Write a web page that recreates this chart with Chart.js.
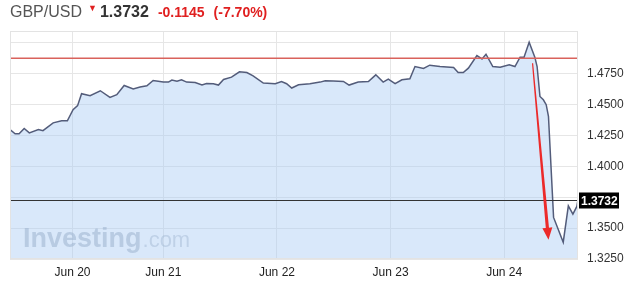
<!DOCTYPE html>
<html>
<head>
<meta charset="utf-8">
<script src="https://cdn.jsdelivr.net/npm/chart.js@4"></script>
<style>
  html, body { margin: 0; padding: 0; background: #fff; }
  #wrap { position: relative; width: 637px; height: 289px; font-family: "Liberation Sans", Arial, sans-serif; }
  #head { position: absolute; left: 10px; top: 3px; white-space: nowrap; }
  #head .pair { font-size: 16px; color: #555; }
  #head .ico { color: #e02020; font-size: 9px; position: relative; top: -6px; margin: 0 3px 0 6px; }
  #head .last { font-size: 16px; font-weight: bold; color: #333; }
  #head .chg { font-size: 14px; font-weight: bold; color: #e02020; margin-left: 9px; }
  canvas { position: absolute; left: 0; top: 0; }
</style>
</head>
<body>
<div id="wrap">
  <canvas id="fxChart" width="637" height="289"></canvas>
  <div id="head"><span class="pair">GBP/USD</span><span class="ico">&#9660;</span><span class="last">1.3732</span><span class="chg">-0.1145</span><span class="chg">(-7.70%)</span></div>
</div>
<script>
  // datos (x = pasos de tiempo, 20 por día)
  const steps = [0, 0.9, 1.6, 2.5, 3.4, 5, 5.8, 7.6, 9.1, 10.1, 11.1, 11.9, 12.6, 14.1, 15.9, 17.6, 18.8, 20.1,
    21.7, 22.9, 24.1, 25.2, 27, 27.9, 28.5, 29.4, 30.2, 31.1, 32.6, 33.8, 34.6, 35.8, 36.7, 37.6, 39, 40.4,
    41.7, 42.8, 44.6, 46.7, 47.8, 48.7, 49.6, 50.8, 52.8, 54.6, 55.5, 56.9, 58.7, 59.7, 61.3, 63.1, 64.4,
    65.7, 66.6, 67.8, 69, 70.4, 71.3, 72.8, 73.9, 75.7, 78.1, 78.9, 79.8, 80.7, 82.2, 83.1, 83.8, 85, 86.3,
    87.9, 88.9, 89.8, 90.5, 91.4, 92.4, 92.8, 93.3, 93.9, 94.4, 94.8, 95.7, 97.4, 98.3, 99.1, 99.8, 100];
  const prices = [1.4299, 1.4264, 1.4264, 1.4307, 1.4272, 1.4299, 1.4290, 1.4353, 1.4369, 1.4369, 1.4460, 1.4492,
    1.4589, 1.4573, 1.4613, 1.4559, 1.4581, 1.4656, 1.4627, 1.4643, 1.4653, 1.4696, 1.4683, 1.4683, 1.4700,
    1.4690, 1.4702, 1.4683, 1.4680, 1.4659, 1.4672, 1.4670, 1.4659, 1.4704, 1.4723, 1.4766, 1.4760, 1.4734,
    1.4675, 1.4670, 1.4688, 1.4670, 1.4635, 1.4661, 1.4670, 1.4683, 1.4694, 1.4691, 1.4688, 1.4659, 1.4683,
    1.4688, 1.4742, 1.4683, 1.4707, 1.4670, 1.4702, 1.4710, 1.4809, 1.4793, 1.4820, 1.4809, 1.4801, 1.4760,
    1.4760, 1.4796, 1.4898, 1.4871, 1.4909, 1.4809, 1.4804, 1.4823, 1.4809, 1.4885, 1.4885, 1.5006, 1.4885,
    1.4809, 1.4567, 1.4540, 1.4500, 1.4406, 1.3587, 1.3386, 1.3680, 1.3613, 1.3676, 1.3732];

  const dayTicks = [11, 27, 47, 67, 87];
  const dayLabels = ['Jun 20', 'Jun 21', 'Jun 22', 'Jun 23', 'Jun 24'];
  const yTicks = [1.325, 1.35, 1.375, 1.4, 1.425, 1.45, 1.475, 1.5];
  const yLabels = ['1.3250', '1.3500', '', '1.4000', '1.4250', '1.4500', '1.4750', ''];

  const prevClose = 1.4877;
  const lastPrice = 1.3732;
  const arrowFrom = [92, 1.4836];
  const arrowTo = [94.8, 1.3406];

  const marcas = {
    id: 'marcas',
    beforeDraw(chart) {
      const {ctx, chartArea: a} = chart;
      ctx.save();
      ctx.fillStyle = '#fff';
      ctx.fillRect(a.left, a.top, a.width, a.height);
      ctx.restore();
    },
    beforeDatasetsDraw(chart) {
      const {ctx, chartArea: a} = chart;
      ctx.save();
      ctx.font = 'bold 27px "Liberation Sans", Arial, sans-serif';
      ctx.fillStyle = 'rgba(135,150,170,0.5)';
      ctx.textBaseline = 'alphabetic';
      ctx.fillText('Investing', a.left + 13, 247);
      const w = ctx.measureText('Investing').width;
      ctx.font = '22px "Liberation Sans", Arial, sans-serif';
      ctx.fillStyle = 'rgba(135,150,170,0.4)';
      ctx.fillText('.com', a.left + 14 + w, 247);
      ctx.restore();
    },
    afterDatasetsDraw(chart) {
      const {ctx, chartArea: a, scales: {x, y}} = chart;
      ctx.save();
      // cierre anterior
      const yr = y.getPixelForValue(prevClose);
      ctx.strokeStyle = '#d9625c';
      ctx.lineWidth = 1.5;
      ctx.beginPath(); ctx.moveTo(a.left, yr); ctx.lineTo(a.right, yr); ctx.stroke();
      // último precio
      const yl = Math.round(y.getPixelForValue(lastPrice)) + 0.5;
      ctx.strokeStyle = '#333';
      ctx.lineWidth = 1;
      ctx.beginPath(); ctx.moveTo(a.left, yl); ctx.lineTo(a.right, yl); ctx.stroke();
      ctx.fillStyle = '#000';
      ctx.fillRect(a.right + 1, yl - 8, 40, 16);
      ctx.fillStyle = '#fff';
      ctx.font = 'bold 12px "Liberation Sans", Arial, sans-serif';
      ctx.textBaseline = 'middle';
      ctx.fillText(lastPrice.toFixed(4), a.right + 3, yl + 1);
      // flecha roja
      const x0 = x.getPixelForValue(arrowFrom[0]), y0 = y.getPixelForValue(arrowFrom[1]);
      const x1 = x.getPixelForValue(arrowTo[0]), y1 = y.getPixelForValue(arrowTo[1]);
      const ang = Math.atan2(y1 - y0, x1 - x0);
      const hl = 12, hw = 5;
      const bx = x1 - hl * Math.cos(ang), by = y1 - hl * Math.sin(ang);
      const nx = -Math.sin(ang), ny = Math.cos(ang);
      ctx.fillStyle = '#ec2a2a';
      ctx.beginPath();
      ctx.moveTo(x0 + nx * 0.6, y0 + ny * 0.6);
      ctx.lineTo(bx + nx * 1.6, by + ny * 1.6);
      ctx.lineTo(bx + nx * hw, by + ny * hw);
      ctx.lineTo(x1, y1);
      ctx.lineTo(bx - nx * hw, by - ny * hw);
      ctx.lineTo(bx - nx * 1.6, by - ny * 1.6);
      ctx.lineTo(x0 - nx * 0.6, y0 - ny * 0.6);
      ctx.closePath();
      ctx.fill();
      // borde
      ctx.strokeStyle = '#e3e3e3';
      ctx.lineWidth = 1;
      ctx.strokeRect(a.left + 0.5, a.top + 0.5, a.width - 1, a.height - 1);
      ctx.restore();
    }
  };

  const ctx = document.getElementById('fxChart').getContext('2d');
  const fxChart = new Chart(ctx, {
    type: 'line',
    data: {
      datasets: [{
        label: 'GBP/USD',
        data: steps.map((s, i) => ({x: s, y: prices[i]})),
        borderColor: '#535c7a',
        borderWidth: 1.5,
        backgroundColor: 'rgba(170,205,245,0.45)',
        fill: 'start',
        pointRadius: 0,
        tension: 0
      }]
    },
    options: {
      responsive: false,
      animation: false,
      layout: { padding: { left: 10, top: 31, right: 0, bottom: 0 } },
      plugins: { legend: { display: false }, tooltip: { enabled: false } },
      scales: {
        x: {
          type: 'linear',
          min: 0,
          max: 100,
          afterBuildTicks: ax => { ax.ticks = dayTicks.map(v => ({value: v})); },
          afterFit: ax => { ax.height = 30; },
          ticks: {
            autoSkip: false,
            maxRotation: 0,
            padding: 6,
            color: '#222',
            font: { size: 12, family: '"Liberation Sans", Arial, sans-serif' },
            callback: v => dayLabels[dayTicks.indexOf(v)]
          },
          grid: { color: '#e6e6e6', drawTicks: false },
          border: { display: false }
        },
        y: {
          position: 'right',
          min: 1.325,
          max: 1.5097,
          afterBuildTicks: ax => { ax.ticks = yTicks.map(v => ({value: v})); },
          afterFit: ax => { ax.width = 59; },
          ticks: {
            padding: 9,
            color: '#333',
            font: { size: 12, family: '"Liberation Sans", Arial, sans-serif' },
            callback: v => yLabels[yTicks.findIndex(t => Math.abs(t - v) < 1e-6)]
          },
          grid: { color: '#e6e6e6', drawTicks: false },
          border: { display: false }
        }
      }
    },
    plugins: [marcas]
  });
</script>
</body>
</html>
